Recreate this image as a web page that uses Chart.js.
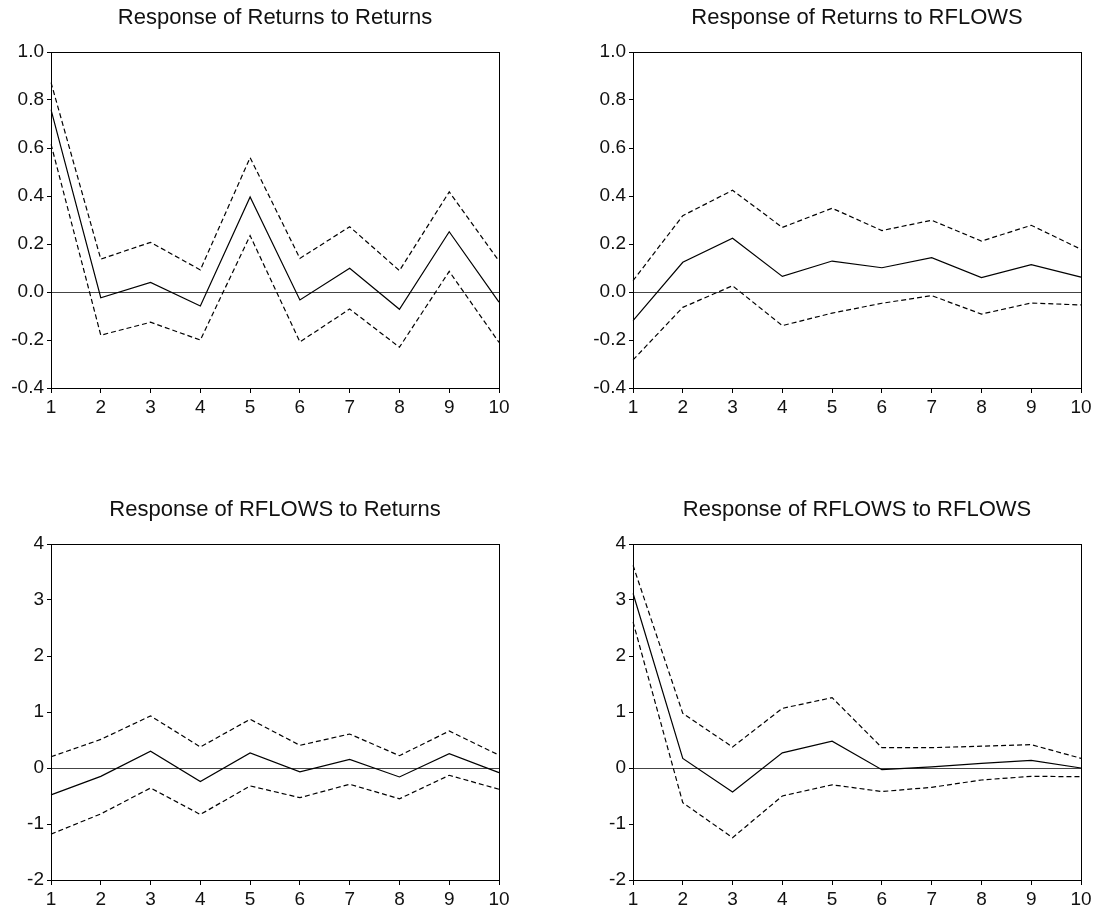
<!DOCTYPE html>
<html>
<head>
<meta charset="utf-8">
<script src="https://cdn.jsdelivr.net/npm/chart.js@4.4.1/dist/chart.umd.min.js"></script>
<style>
    html, body { margin: 0; padding: 0; background: #fff; overflow: hidden; }
    body { width: 1098px; height: 911px; position: relative; }
    .panel { position: absolute; height: 419px; }
</style>
</head>
<body>
<div class="panel" style="left:0;top:0;width:550px"><canvas id="c1"></canvas></div>
<div class="panel" style="left:549px;top:0;width:616px"><canvas id="c2"></canvas></div>
<div class="panel" style="left:0;top:492px;width:550px"><canvas id="c3"></canvas></div>
<div class="panel" style="left:549px;top:492px;width:616px"><canvas id="c4"></canvas></div>
<script>
// horizon (periods)
const steps = ['1', '2', '3', '4', '5', '6', '7', '8', '9', '10'];

// Response of Returns to Returns
const retRetMid = [0.76, -0.024, 0.04, -0.058, 0.396, -0.033, 0.099, -0.072, 0.251, -0.042];
const retRetUp  = [0.873, 0.137, 0.207, 0.092, 0.56, 0.14, 0.272, 0.089, 0.417, 0.129];
const retRetLo  = [0.616, -0.18, -0.126, -0.2, 0.235, -0.208, -0.071, -0.23, 0.086, -0.21];

// Response of Returns to RFLOWS
const retFlowMid = [-0.119, 0.124, 0.224, 0.065, 0.129, 0.101, 0.143, 0.06, 0.114, 0.062];
const retFlowUp  = [0.047, 0.318, 0.424, 0.269, 0.349, 0.256, 0.299, 0.212, 0.278, 0.178];
const retFlowLo  = [-0.283, -0.064, 0.026, -0.14, -0.088, -0.047, -0.015, -0.092, -0.046, -0.054];

// Response of RFLOWS to Returns
const flowRetMid = [-0.48, -0.15, 0.30, -0.24, 0.27, -0.07, 0.155, -0.16, 0.256, -0.083];
const flowRetUp  = [0.20, 0.51, 0.93, 0.375, 0.87, 0.405, 0.607, 0.22, 0.66, 0.23];
const flowRetLo  = [-1.18, -0.82, -0.357, -0.83, -0.32, -0.53, -0.29, -0.55, -0.13, -0.38];

// Response of RFLOWS to RFLOWS
const flowFlowMid = [3.12, 0.17, -0.43, 0.27, 0.48, -0.03, 0.02, 0.083, 0.137, 0.0];
const flowFlowUp  = [3.62, 0.976, 0.375, 1.065, 1.256, 0.363, 0.363, 0.39, 0.417, 0.173];
const flowFlowLo  = [2.61, -0.62, -1.244, -0.5, -0.3, -0.42, -0.345, -0.214, -0.149, -0.155];

// y axis ranges [min, max, step]
const yRangeReturns = [-0.4, 1.0, 0.2];
const yRangeFlows = [-2, 4, 1];

const FONT = "'Liberation Sans', Arial, Helvetica, sans-serif";

// full box around the plot area
const frameBox = {
    id: 'frameBox',
    afterDraw(chart) {
        const a = chart.chartArea;
        const ctx = chart.ctx;
        ctx.save();
        ctx.strokeStyle = '#000';
        ctx.lineWidth = 1;
        ctx.strokeRect(Math.round(a.left) + 0.5, Math.round(a.top) + 0.5,
            Math.round(a.right - a.left), Math.round(a.bottom - a.top));
        ctx.restore();
    }
};

function lineSet(data, dashed) {
    return {
        data: data,
        borderColor: '#000',
        borderWidth: 1.2,
        borderDash: dashed ? [5, 3] : [],
        pointRadius: 0,
        tension: 0,
        fill: false
    };
}

// axisWidth is used on both sides so the title centres over the plot
function makePanel(id, title, mid, up, lo, range, decimals, axisWidth) {
    const ctx = document.getElementById(id);
    new Chart(ctx, {
        type: 'line',
        data: {
            labels: steps,
            datasets: [lineSet(mid, false), lineSet(up, true), lineSet(lo, true)]
        },
        options: {
            responsive: true,
            maintainAspectRatio: false,
            animation: false,
            events: [],
            layout: { padding: { left: 0, right: 0, top: 0, bottom: 1 } },
            plugins: {
                legend: { display: false },
                tooltip: { enabled: false },
                title: {
                    display: true,
                    text: title,
                    color: '#111',
                    font: { family: FONT, size: 22, weight: 'normal', lineHeight: 1.2 },
                    padding: { top: 5, bottom: 20.6 }
                }
            },
            scales: {
                x: {
                    type: 'category',
                    offset: false,
                    border: { display: true, color: '#000', width: 1 },
                    grid: { drawOnChartArea: false, drawTicks: true, tickLength: 5, tickColor: '#000' },
                    ticks: { color: '#111', font: { family: FONT, size: 19 }, padding: 3, maxRotation: 0, autoSkip: false },
                    afterFit: (s) => { s.height = 30; }
                },
                y: {
                    min: range[0],
                    max: range[1],
                    border: { display: true, color: '#000', width: 1 },
                    grid: {
                        drawTicks: true,
                        tickLength: 4,
                        tickColor: '#000',
                        color: (c) => (c.tick && Math.abs(c.tick.value) < 1e-9) ? '#444' : 'rgba(0,0,0,0)'
                    },
                    ticks: {
                        stepSize: range[2],
                        color: '#111',
                        font: { family: FONT, size: 19 },
                        padding: 3,
                        callback: (v) => (Math.abs(v) < 1e-9 ? 0 : Number(v)).toFixed(decimals)
                    },
                    afterFit: (s) => { s.width = axisWidth; }
                },
                yRight: {
                    type: 'linear',
                    position: 'right',
                    border: { display: false },
                    grid: { display: false },
                    ticks: { display: false },
                    afterFit: (s) => { s.width = axisWidth; }
                }
            }
        },
        plugins: [frameBox]
    });
}

makePanel('c1', 'Response of Returns to Returns', retRetMid, retRetUp, retRetLo, yRangeReturns, 1, 51);
makePanel('c2', 'Response of Returns to RFLOWS', retFlowMid, retFlowUp, retFlowLo, yRangeReturns, 1, 84);
makePanel('c3', 'Response of RFLOWS to Returns', flowRetMid, flowRetUp, flowRetLo, yRangeFlows, 0, 51);
makePanel('c4', 'Response of RFLOWS to RFLOWS', flowFlowMid, flowFlowUp, flowFlowLo, yRangeFlows, 0, 84);
</script>
</body>
</html>
